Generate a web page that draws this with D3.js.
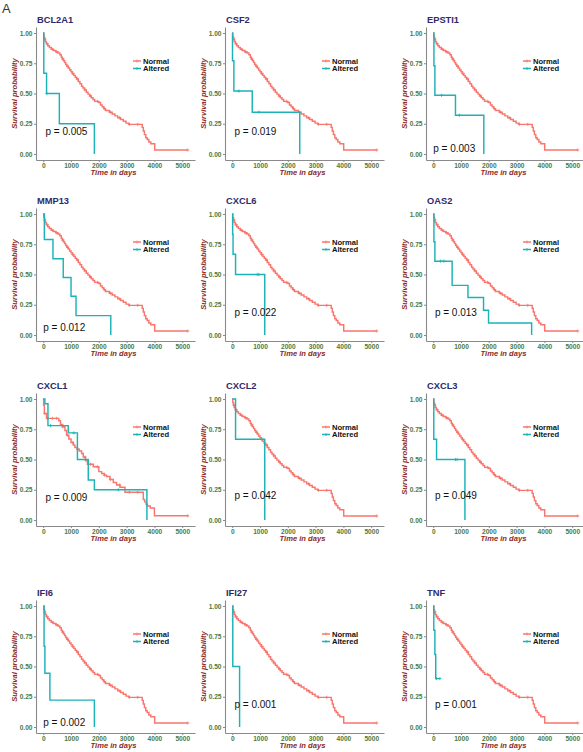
<!DOCTYPE html>
<html><head><meta charset="utf-8">
<script src="https://cdn.jsdelivr.net/npm/d3@7"></script>
<style>body{margin:0;background:#fff}svg{display:block}</style>
</head><body><svg id="c" width="583" height="752"></svg>
<script>
// ---------- data ----------
const genes = ["BCL2A1","CSF2","EPSTI1","MMP13","CXCL6","OAS2","CXCL1","CXCL2","CXCL3","IFI6","IFI27","TNF"];
const pValues = ["0.005","0.019","0.003","0.012","0.022","0.013","0.009","0.042","0.049","0.002","0.001","0.001"];
const groupNames = ["Normal","Altered"];
const xTicks = [0,1000,2000,3000,4000,5000];
const yTicks = [0,0.25,0.5,0.75,1];

const normalTimes = [0,20,45,70,110,160,220,290,370,450,530,600,650,690,730,770,810,850,900,950,1000,1050,1100,1150,1200,1260,1320,1380,1430,1490,1550,1610,1670,1730,1790,1850,2000,2060,2120,2180,2240,2380,2480,2580,2680,2780,2880,2980,3080,3560,3600,3640,3690,3740,3800,3870,4010];
const normalSurv  = [1.0,0.97,0.95,0.93,0.91,0.895,0.88,0.865,0.855,0.845,0.835,0.82,0.80,0.785,0.77,0.755,0.74,0.725,0.71,0.695,0.68,0.665,0.65,0.635,0.62,0.60,0.58,0.56,0.545,0.53,0.51,0.495,0.48,0.465,0.45,0.435,0.425,0.405,0.39,0.375,0.36,0.345,0.33,0.315,0.30,0.285,0.27,0.255,0.245,0.22,0.19,0.16,0.135,0.12,0.10,0.085,0.033];
const normalEnd = 5200;
const normalCensor = [60,150,330,480,700,880,1060,1240,1500,1700,1950,2200,2420,2750,3100,3400,5200];

// CXCL1 normal group differs (larger altered group)
const normalTimesCXCL1 = [0,15,40,120,560,620,700,780,840,920,1000,1080,1140,1220,1300,1380,1440,1520,1590,1800,2000,2100,2200,2280,2400,2520,2640,2760,2940,3600,3650,3700,3750,3850,4000];
const normalSurvCXCL1  = [1.0,0.95,0.88,0.84,0.82,0.79,0.77,0.74,0.70,0.67,0.64,0.62,0.60,0.585,0.57,0.55,0.52,0.49,0.46,0.44,0.40,0.385,0.37,0.36,0.335,0.31,0.29,0.27,0.23,0.17,0.15,0.13,0.115,0.10,0.035];

const alteredTimes = [
  [0,20,120,580,1840],
  [0,10,60,720,2430],
  [0,25,60,800,1820],
  [0,40,350,720,1000,1180,2430],
  [0,15,30,120,1170],
  [0,25,60,680,1250,1810,1990,3540],
  [0,60,170,900,1230,1620,1840,3730],
  [0,120,1170],
  [0,20,120,1140],
  [0,30,60,240,1840],
  [0,20,265],
  [0,20,60,90]
];
const alteredSurv = [
  [1,0.667,0.5,0.25,0],
  [1,0.77,0.52,0.345,0],
  [1,0.73,0.485,0.32,0],
  [1,0.79,0.63,0.475,0.32,0.16,0],
  [1,0.833,0.667,0.5,0],
  [1,0.77,0.61,0.41,0.31,0.205,0.10,0],
  [1,0.96,0.78,0.72,0.5,0.33,0.25,0],
  [1,0.667,0],
  [1,0.667,0.5,0],
  [1,0.667,0.444,0.222,0],
  [1,0.5,0],
  [1,0.8,0.6,0.4]
];
const alteredEnd = [1840,2430,1820,2430,1170,3540,3730,1170,1140,1840,265,240];
const alteredCensor = [[130],[240,960],[300,940],[],[900,960],[260,380],[260,1100,2700],[],[800,860],[],[],[120,240]];

// ---------- layout ----------
const colX = [36,225,426];
const rowY1 = [33,214,399,606];
const plotW = 159, unitH = 121;
const pvalPos = [[80,0.19],[80,0.19],[0,0.05],[0,0.06],[80,0.19],[60,0.19],[80,0.19],[80,0.2],[60,0.2],[0,0.04],[80,0.19],[60,0.19]];

const colNormal = "#F8766D", colAltered = "#1DB3B6";
const svg = d3.select("#c");
const FONT = "Liberation Sans, Arial, sans-serif";

svg.append("text").attr("x",2).attr("y",13).text("A")
  .attr("font-family","Liberation Sans Narrow, Liberation Sans, Arial").attr("font-size",13).attr("fill","#333");

function kmPoints(ts, ss, end){
  const pts = ts.map((t,i)=>[t,ss[i]]);
  pts.push([end, ss[ss.length-1]]);
  return pts;
}
function survAt(ts, ss, t){
  let s = ss[0];
  for(let i=0;i<ts.length;i++){ if(ts[i]<=t) s=ss[i]; }
  return s;
}

genes.forEach((g,i)=>{
  const r = Math.floor(i/3), c = i%3;
  const cx = colX[c], y1 = rowY1[r];
  const x = d3.scaleLinear().domain([-260,5460]).range([cx, cx+plotW]);
  const y = d3.scaleLinear().domain([-0.05,1.05]).range([y1+unitH+0.05*unitH, y1-0.05*unitH]);
  const G = svg.append("g");

  // axes
  const ya = G.append("g").attr("transform",`translate(${cx},0)`)
    .call(d3.axisLeft(y).tickValues(yTicks).tickFormat(d3.format(".2f")).tickSize(2).tickSizeOuter(0).tickPadding(1.5));
  const xa = G.append("g").attr("transform",`translate(0,${y(-0.05)})`)
    .call(d3.axisBottom(x).tickValues(xTicks).tickFormat(d3.format("d")).tickSize(2).tickSizeOuter(0).tickPadding(1.5));
  [ya,xa].forEach(a=>{
    a.select(".domain").attr("stroke","#8a8a8a").attr("stroke-width",1.1);
    a.selectAll(".tick line").attr("stroke","#8a8a8a");
    a.selectAll(".tick text").attr("font-family",FONT).attr("font-size",6.6).attr("font-weight","bold").attr("fill","#4C7A3F");
  });

  // titles
  G.append("text").attr("x",cx+1).attr("y",y1-10).text(g)
    .attr("font-family",FONT).attr("font-size",9.3).attr("font-weight","bold").attr("fill","#2E2A6B");
  G.append("text").attr("x",cx+plotW/2-2).attr("y",y(0)+21).attr("text-anchor","middle").text("Time in days")
    .attr("font-family",FONT).attr("font-size",7.6).attr("font-weight","bold").attr("font-style","italic").attr("fill","#8B2B1F");
  G.append("text").attr("transform",`translate(${cx-19},${(y(0)+y(1))/2}) rotate(-90)`).attr("text-anchor","middle").text("Survival probability")
    .attr("font-family",FONT).attr("font-size",7.6).attr("font-weight","bold").attr("font-style","italic").attr("fill","#8B2B1F");

  const line = d3.line().x(d=>x(d[0])).y(d=>y(d[1])).curve(d3.curveStepAfter);
  const nT = g==="CXCL1" ? normalTimesCXCL1 : normalTimes;
  const nS = g==="CXCL1" ? normalSurvCXCL1 : normalSurv;

  function cross(t, s, col){
    const px=x(t), py=y(s);
    G.append("path").attr("d",`M${px-1.6},${py}H${px+1.6}M${px},${py-1.6}V${py+1.6}`).attr("stroke",col).attr("stroke-width",0.8).attr("fill","none");
  }

  G.append("path").attr("d",line(kmPoints(nT,nS,normalEnd))).attr("fill","none").attr("stroke",colNormal).attr("stroke-width",1.45);
  normalCensor.forEach(t=>cross(t, survAt(nT,nS,t), colNormal));
  G.append("path").attr("d",line(kmPoints(alteredTimes[i],alteredSurv[i],alteredEnd[i]))).attr("fill","none").attr("stroke",colAltered).attr("stroke-width",1.45);
  alteredCensor[i].forEach(t=>cross(t, survAt(alteredTimes[i],alteredSurv[i],t), colAltered));

  // legend
  const lx = cx+97;
  [colNormal,colAltered].forEach((col,k)=>{
    const ly = y1+28+k*7.5;
    G.append("line").attr("x1",lx).attr("x2",lx+8).attr("y1",ly).attr("y2",ly).attr("stroke",col).attr("stroke-width",1.5);
    G.append("line").attr("x1",lx+4).attr("x2",lx+4).attr("y1",ly-1.5).attr("y2",ly+1.5).attr("stroke",col).attr("stroke-width",0.8);
    G.append("text").attr("x",lx+10).attr("y",ly+2.6).text(groupNames[k])
      .attr("font-family",FONT).attr("font-size",7.6).attr("font-weight","bold").attr("fill","#111");
  });

  // p-value
  G.append("text").attr("x",x(pvalPos[i][0])).attr("y",y(pvalPos[i][1])).attr("dy","0.36em").text("p = "+pValues[i])
    .attr("font-family",FONT).attr("font-size",10).attr("fill","#111");
});
</script></body></html>
